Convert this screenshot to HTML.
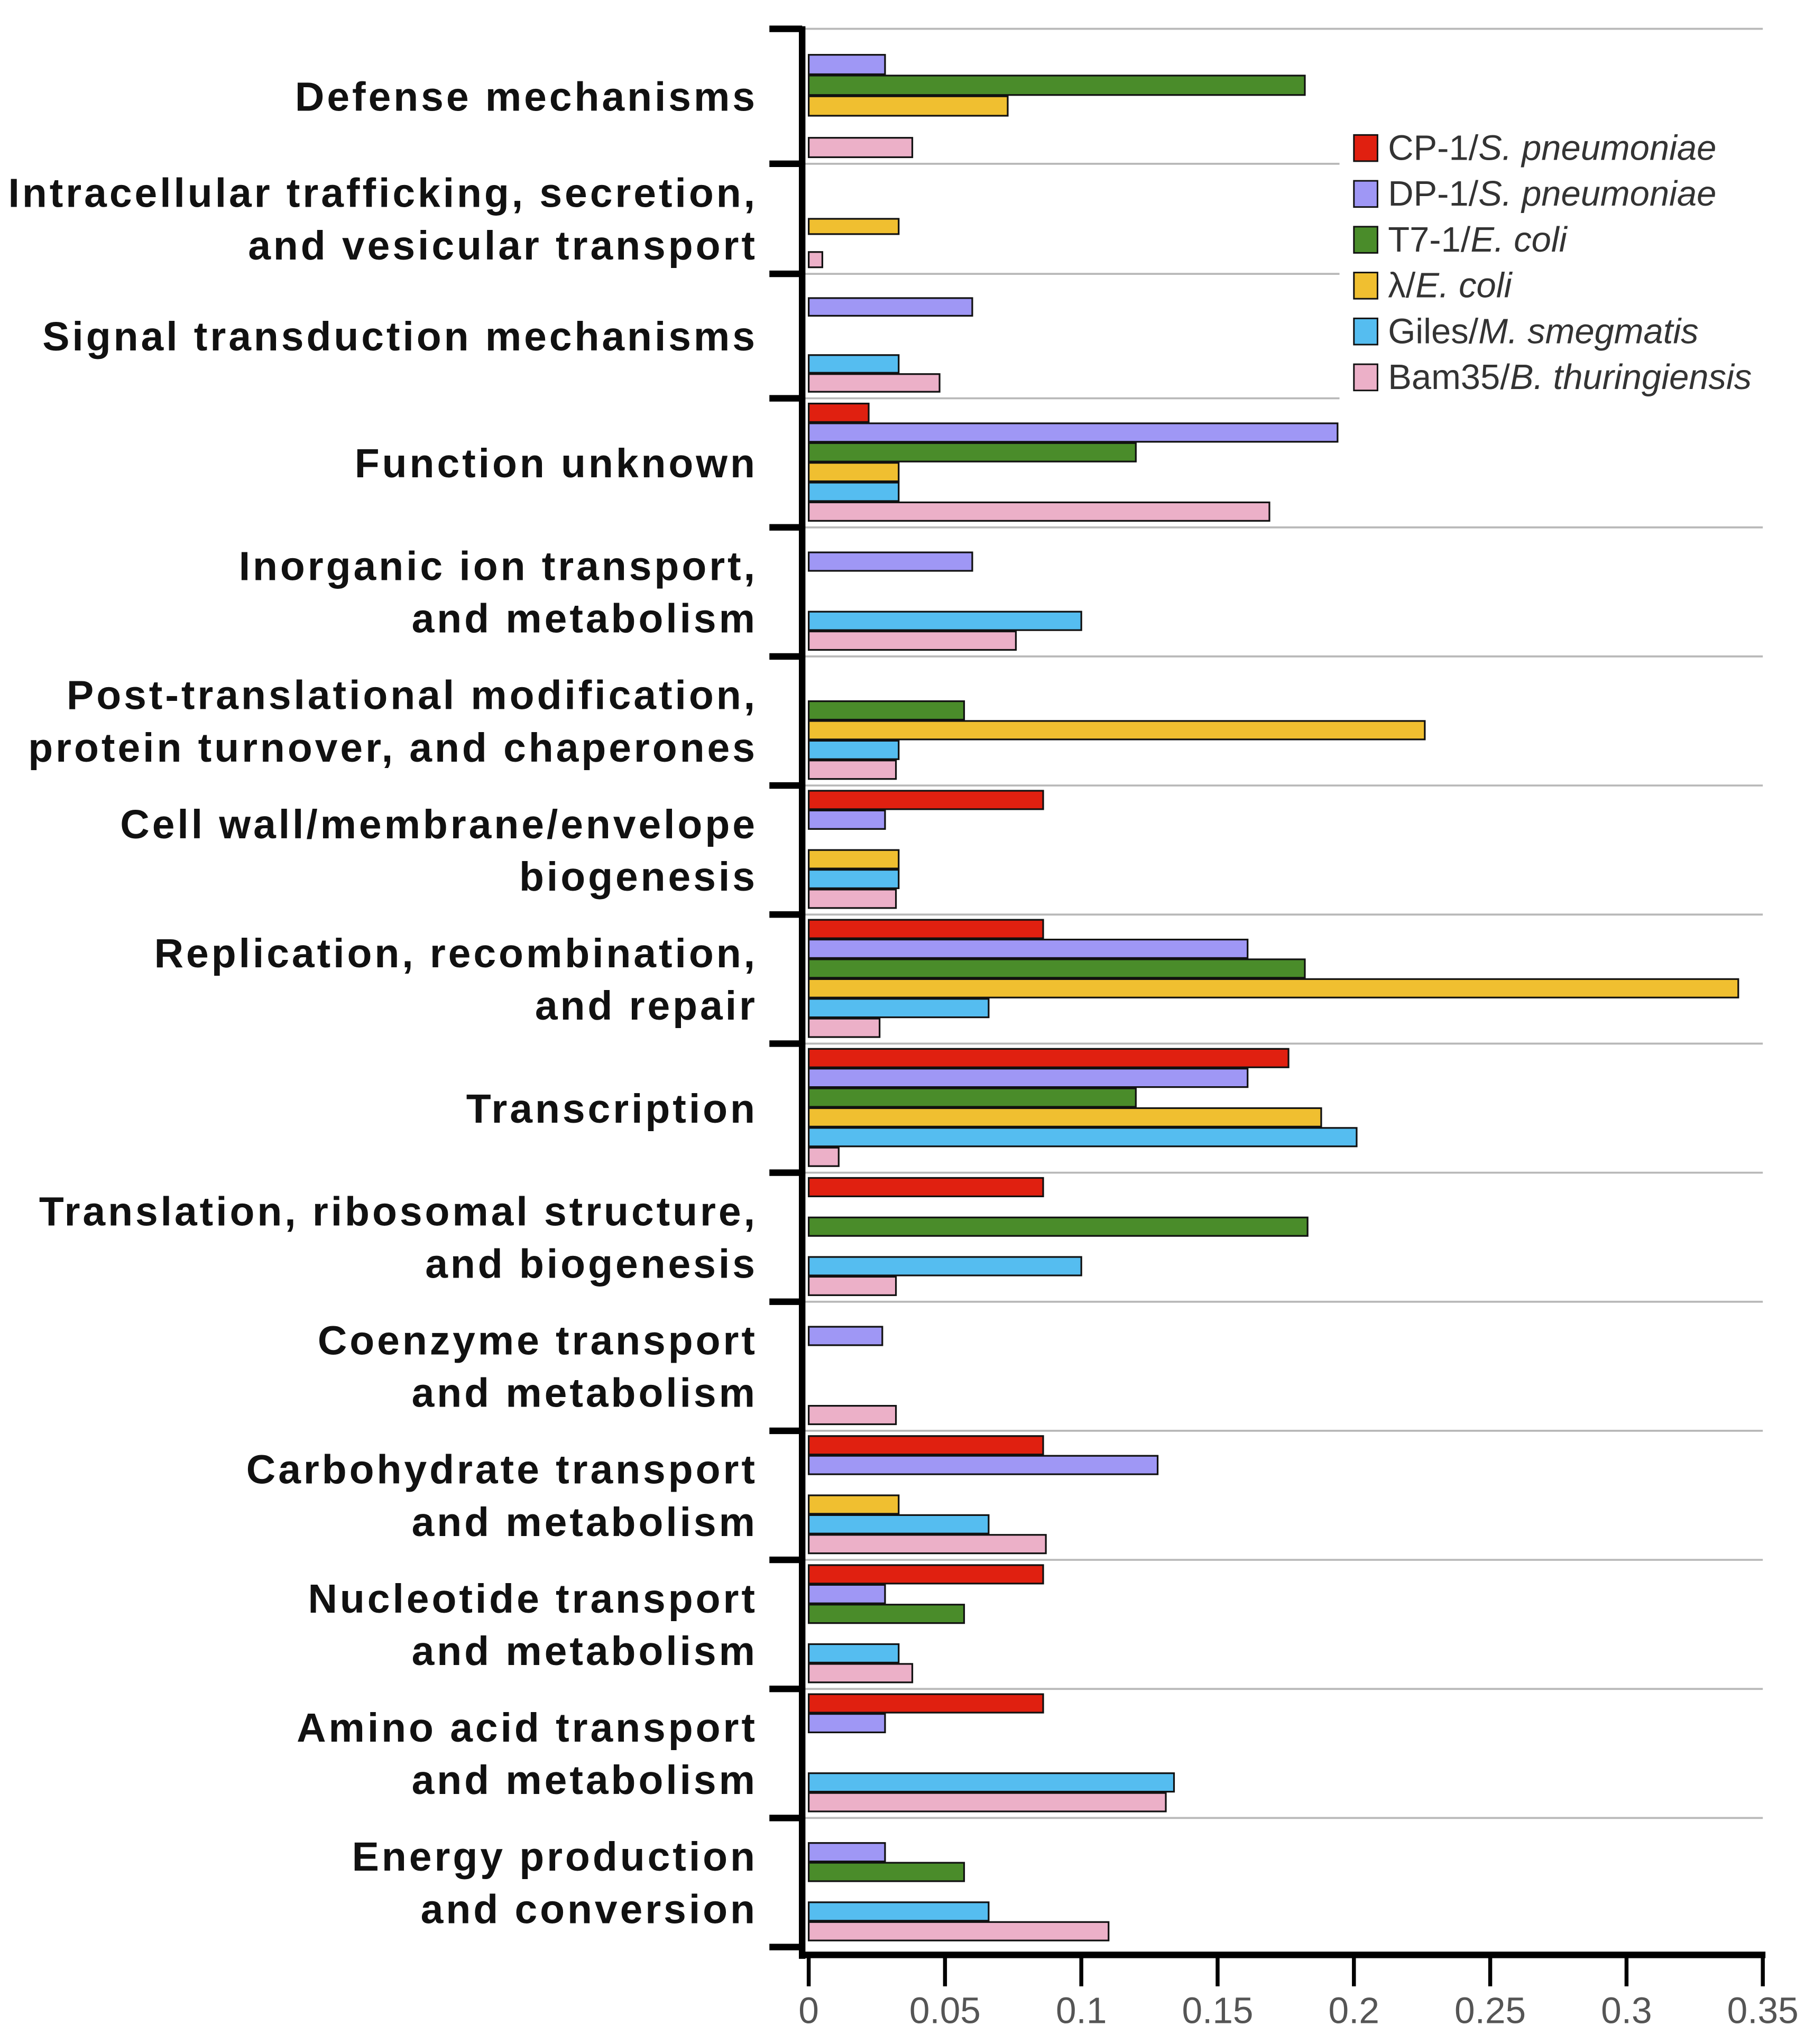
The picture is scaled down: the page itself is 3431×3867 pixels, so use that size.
<!DOCTYPE html>
<html><head><meta charset="utf-8"><style>html,body{margin:0;padding:0;background:#fff}svg{display:block}</style></head>
<body>
<svg id="chart" xmlns="http://www.w3.org/2000/svg" width="3431" height="3867" viewBox="0 0 1384 1560" font-family="'Liberation Sans', Arial, sans-serif">
<rect width="1384" height="1560" fill="#fff"/>
<g id="grid"></g><g id="bars"></g><g id="axes"></g><g id="labels"></g><g id="legend"></g>
</svg>
<script>
const categories = [
 ["Defense mechanisms"],
 ["Intracellular trafficking, secretion,","and vesicular transport"],
 ["Signal transduction mechanisms"],
 ["Function unknown"],
 ["Inorganic ion transport,","and metabolism"],
 ["Post-translational modification,","protein turnover, and chaperones"],
 ["Cell wall/membrane/envelope","biogenesis"],
 ["Replication, recombination,","and repair"],
 ["Transcription"],
 ["Translation, ribosomal structure,","and biogenesis"],
 ["Coenzyme transport","and metabolism"],
 ["Carbohydrate transport","and metabolism"],
 ["Nucleotide transport","and metabolism"],
 ["Amino acid transport","and metabolism"],
 ["Energy production","and conversion"]
];
const seriesNames = [["CP-1/","S. pneumoniae"],["DP-1/","S. pneumoniae"],["T7-1/","E. coli"],["λ/","E. coli"],["Giles/","M. smegmatis"],["Bam35/","B. thuringiensis"]];
const cp1   = [0,0,0,0.022,0,0,0.086,0.086,0.176,0.086,0,0.086,0.086,0.086,0];
const dp1   = [0.028,0,0.060,0.194,0.060,0,0.028,0.161,0.161,0,0.027,0.128,0.028,0.028,0.028];
const t71   = [0.182,0,0,0.120,0,0.057,0,0.182,0.120,0.183,0,0,0.057,0,0.057];
const lambda= [0.073,0.033,0,0.033,0,0.226,0.033,0.341,0.188,0,0,0.033,0,0,0];
const giles = [0,0,0.033,0.033,0.100,0.033,0.033,0.066,0.201,0.100,0,0.066,0.033,0.134,0.066];
const bam35 = [0.038,0.005,0.048,0.169,0.076,0.032,0.032,0.026,0.011,0.032,0.032,0.087,0.038,0.131,0.110];
const series = [cp1,dp1,t71,lambda,giles,bam35];
const colors = ["#e02010","#9f97f5","#4a8c2a","#f0bf30","#55bdf0","#ecb0c8"];
const ticks = [0,0.05,0.1,0.15,0.2,0.25,0.3,0.35];
const tickLabels = ["0","0.05","0.1","0.15","0.2","0.25","0.3","0.35"];

const NS="http://www.w3.org/2000/svg";
const X0=617, X1=1345, VMAX=0.35, YBOT=1486, BAND=98.5;
const xs = v => X0 + v/VMAX*(X1-X0);
const N = categories.length;
// category band edges: uniform from the bottom, top three bands slightly irregular in the source figure
function yb(i){
  const top=[22,125,209];
  if(i<3) return top[i];
  return YBOT-(N-i)*BAND;
}
function mk(tag, attrs, parent){const e=document.createElementNS(NS,tag);for(const k in attrs)e.setAttribute(k,attrs[k]);parent.appendChild(e);return e;}
const G=id=>document.getElementById(id);

for(let i=0;i<=N;i++){
  const y=yb(i);
  if(i<N){
    const gl=mk('line',{x1:612,x2:X1,y1:y,y2:y,stroke:'#b8b8b8','stroke-width':1.5},G('grid'));
    
    
  }
  const t=mk('line',{x1:587,x2:612,y1:y,y2:y,stroke:'#000','stroke-width':5},G('axes'));
  
  
}
categories.forEach((c,i)=>{
  const h=yb(i+1)-yb(i);
  const slot=(h-8)/6;
  series.forEach((s,j)=>{
    const v=s[i]; if(!v) return;
    const r=mk('rect',{x:xs(0),y:yb(i)+4+j*slot,width:xs(v)-xs(0),height:slot-1,fill:colors[j],stroke:'#111','stroke-width':1.3},G('bars'));
    
    
  });
  const cy=yb(i)+h/2;
  const n=c.length;
  c.forEach((ln,k)=>{
    const t=mk('text',{x:578,y:cy+11+(k-(n-1)/2)*40,'text-anchor':'end','font-size':31,'font-weight':'bold','letter-spacing':'2',fill:'#111'},G('labels'));
    t.textContent=ln;
    
    
  });
});
const ya=mk('line',{x1:612,x2:612,y1:20,y2:1495,stroke:'#000','stroke-width':5},G('axes'));


const xa=mk('line',{x1:610,x2:1347,y1:1492,y2:1492,stroke:'#000','stroke-width':5},G('axes'));


ticks.forEach((v,k)=>{
  const l=mk('line',{x1:xs(v),x2:xs(v),y1:1492,y2:1516,stroke:'#000','stroke-width':3},G('axes'));
  
  
  const t=mk('text',{x:xs(v),y:1544,'text-anchor':'middle','font-size':28,fill:'#555'},G('axes'));
  t.textContent=tickLabels[k];
  
  
});
const lg=mk('rect',{x:1022,y:96,width:324,height:210,fill:'#fff'},G('legend'));


seriesNames.forEach((nm,j)=>{
  const y=103+j*35;
  const sw=mk('rect',{x:1033,y:y,width:18,height:20,fill:colors[j],stroke:'#111','stroke-width':1.2},G('legend'));
  
  
  const t=mk('text',{x:1059,y:y+19,'font-size':27,fill:'#333'},G('legend'));
  
  
  const a=document.createElementNS(NS,'tspan');a.textContent=nm[0];t.appendChild(a);
  const b=document.createElementNS(NS,'tspan');b.setAttribute('font-style','italic');b.textContent=nm[1];t.appendChild(b);
});
</script>
</body></html>
